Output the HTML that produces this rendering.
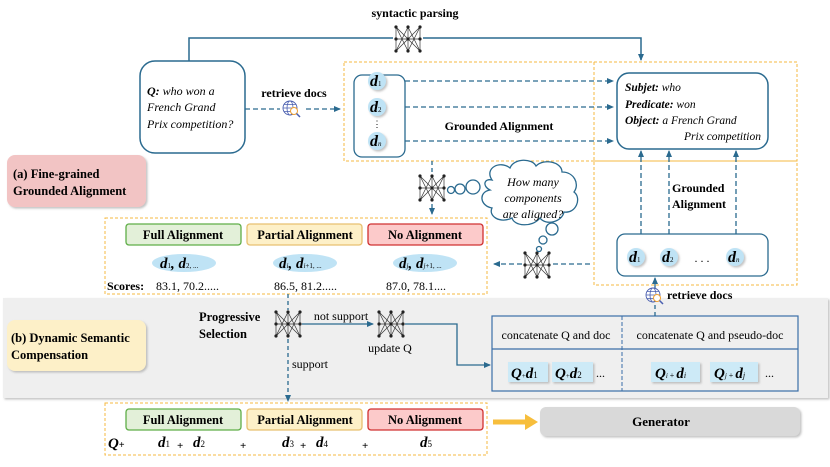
<!DOCTYPE html>
<html><head><meta charset="utf-8"><style>
html,body{margin:0;padding:0;background:#fff;}
svg{display:block;font-family:"Liberation Serif",serif;}
.b{font-weight:bold;}
.i{font-style:italic;}
</style></head><body>
<svg width="830" height="467" viewBox="0 0 830 467" xmlns="http://www.w3.org/2000/svg">
<defs>
<marker id="ar" markerWidth="8" markerHeight="8" refX="6" refY="3" orient="auto" markerUnits="userSpaceOnUse"><path d="M0,0 L7,3 L0,6 z" fill="#2a6a8f"/></marker>
<g id="net">
 <g stroke="#333" stroke-width="0.7" fill="none">
  <path d="M0,0 L12,12 L24,0 M0,24 L12,12 L24,24 M0,0 L12,24 L24,0 M0,24 L12,0 L24,24 M0,0 V24 M24,0 V24 M0,12 H24 M12,0 V24"/>
 </g>
 <g fill="#222"><circle cx="0" cy="0" r="1.6"/><circle cx="12" cy="0" r="1.6"/><circle cx="24" cy="0" r="1.6"/><circle cx="0" cy="12" r="1.6"/><circle cx="12" cy="12" r="1.6"/><circle cx="24" cy="12" r="1.6"/><circle cx="0" cy="24" r="1.6"/><circle cx="12" cy="24" r="1.6"/><circle cx="24" cy="24" r="1.6"/></g>
</g>
<g id="globe">
 <circle cx="0" cy="0" r="7" fill="none" stroke="#4a5fb0" stroke-width="0.9"/>
 <ellipse cx="0" cy="0" rx="3" ry="7" fill="none" stroke="#4a5fb0" stroke-width="0.8"/>
 <path d="M-7,0 H7 M-6,-3.5 H6 M-6,3.5 H6" stroke="#4a5fb0" stroke-width="0.8"/>
 <circle cx="4" cy="3" r="3.5" fill="#fff" stroke="#f0a030" stroke-width="1"/>
 <path d="M6.5,5.5 L10,9" stroke="#4a5fb0" stroke-width="1.5"/>
</g>
<filter id="sh" x="-10%" y="-10%" width="130%" height="140%"><feDropShadow dx="1.5" dy="1.5" stdDeviation="1" flood-color="#999" flood-opacity="0.6"/></filter>
</defs>

<text x="415" y="17" class="b" font-size="12" text-anchor="middle">syntactic parsing</text>
<path d="M189,61 V38 H393 M423,38 H641 V60" fill="none" stroke="#2a6a8f" stroke-width="1.5" marker-end="url(#ar)"/>
<use href="#net" x="396" y="27"/>

<rect x="140" y="61" width="105" height="92" rx="15" fill="#fff" stroke="#2a6a8f" stroke-width="1.5"/>
<text font-size="12" class="i"><tspan x="147" y="95"><tspan class="b">Q:</tspan> who won a</tspan><tspan x="147" y="111">French Grand</tspan><tspan x="147" y="128">Prix competition?</tspan></text>
<text x="294" y="97" class="b" font-size="12" text-anchor="middle">retrieve docs</text>
<path d="M245,109 H280 M306,109 H340" stroke="#2a6a8f" stroke-width="1.3" stroke-dasharray="5,3" fill="none" marker-end="url(#ar)"/>
<use href="#globe" x="290" y="108"/>

<g fill="none" stroke="#f5b942" stroke-width="1" stroke-dasharray="3,2">
<rect x="344" y="62" width="453" height="99"/>
<line x1="594" y1="62" x2="594" y2="285"/>
<path d="M594,161 H797 V285 H594"/>
<rect x="105" y="218" width="382" height="76"/>
<rect x="105" y="403" width="382" height="52"/>
</g>

<rect x="354" y="75" width="51" height="82" rx="8" fill="#fff" stroke="#2a6a8f" stroke-width="1.3"/>
<g fill="#bfe3f5" filter="url(#sh)"><circle cx="377" cy="81" r="9"/><circle cx="377" cy="107" r="9"/><circle cx="377" cy="141" r="9"/></g>
<g font-size="16" class="b i"><text x="370" y="86">d<tspan font-size="7" font-weight="normal" font-style="normal">1</tspan></text><text x="370" y="112">d<tspan font-size="7" font-weight="normal" font-style="normal">2</tspan></text><text x="370" y="146">d<tspan font-size="7" font-weight="normal">n</tspan></text></g>
<text x="377" y="127" font-size="9" text-anchor="middle">⋮</text>
<g stroke="#2a6a8f" stroke-width="1.3" stroke-dasharray="5,3" fill="none" marker-end="url(#ar)">
<path d="M405,81 H613"/><path d="M405,107 H613"/><path d="M405,141 H613"/>
</g>
<text x="499" y="130" class="b" font-size="12" text-anchor="middle">Grounded  Alignment</text>

<rect x="617" y="73" width="151" height="76" rx="12" fill="#fff" stroke="#2a6a8f" stroke-width="1.5"/>
<g font-size="11.5" class="i">
<text x="625" y="91"><tspan class="b">Subjet:</tspan> who</text>
<text x="625" y="108"><tspan class="b">Predicate:</tspan> won</text>
<text x="625" y="124"><tspan class="b">Object:</tspan> a French Grand</text>
<text x="761" y="140" text-anchor="end">Prix competition</text>
</g>
<g stroke="#2a6a8f" stroke-width="1.3" stroke-dasharray="5,3" fill="none" marker-end="url(#ar)">
<path d="M641,234 V151"/><path d="M669,234 V151"/><path d="M736,234 V151"/>
</g>
<text x="672" y="192" class="b" font-size="12"><tspan x="672">Grounded</tspan><tspan x="672" dy="16">Alignment</tspan></text>

<rect x="617" y="234" width="151" height="42" rx="8" fill="#fff" stroke="#2a6a8f" stroke-width="1.3"/>
<g fill="#bfe3f5" filter="url(#sh)"><circle cx="636" cy="257" r="9"/><circle cx="669" cy="257" r="9"/><circle cx="735" cy="257" r="9"/></g>
<g font-size="16" class="b i"><text x="629" y="262">d<tspan font-size="7" font-weight="normal" font-style="normal">1</tspan></text><text x="662" y="262">d<tspan font-size="7" font-weight="normal" font-style="normal">2</tspan></text><text x="728" y="262">d<tspan font-size="7" font-weight="normal">n</tspan></text></g>
<text x="702" y="262" font-size="12" text-anchor="middle">. . .</text>

<path d="M590,264 H553 M522,264 H494" stroke="#2a6a8f" stroke-width="1.3" stroke-dasharray="5,3" fill="none" marker-end="url(#ar)"/>
<use href="#net" x="525" y="253"/>

<path d="M432,161 V172 M432,204 V214" stroke="#2a6a8f" stroke-width="1.3" stroke-dasharray="4,3" fill="none" marker-end="url(#ar)"/>
<use href="#net" x="420" y="176"/>
<g fill="#fff" stroke="#2a6a8f" stroke-width="1.3">
<circle cx="451" cy="190" r="3.5"/><circle cx="460" cy="189" r="5"/><circle cx="473" cy="187" r="7"/>
<path d="M492,180 C484,168 500,160 510,168 C514,158 532,158 536,166 C544,158 562,162 562,172 C574,172 580,184 574,192 C582,198 576,214 564,212 C562,222 546,226 540,218 C532,228 514,226 512,218 C500,224 488,216 492,208 C480,206 478,192 490,190 C482,186 484,178 492,180 Z"/>
<circle cx="552" cy="229" r="6"/><circle cx="543" cy="240" r="4"/><circle cx="539" cy="249" r="2.5"/>
</g>
<g font-size="12" class="i" text-anchor="middle"><text x="533" y="186">How many</text><text x="533" y="202">components</text><text x="533" y="218">are aligned?</text></g>

<rect x="7" y="155" width="139" height="52" rx="8" fill="#f2c4c4" filter="url(#sh)"/>
<text class="b" font-size="12.5"><tspan x="13" y="178">(a) Fine-grained</tspan><tspan x="13" y="195">Grounded Alignment</tspan></text>

<g class="b" font-size="12.5" text-anchor="middle">
<rect x="126" y="224" width="115" height="21" rx="3" fill="#e3f0d9" stroke="#5fae48" stroke-width="1.3"/><text x="183" y="239">Full Alignment</text>
<rect x="247" y="224" width="115" height="21" rx="3" fill="#fdf0c8" stroke="#e8c070" stroke-width="1.3"/><text x="305" y="239">Partial Alignment</text>
<rect x="368" y="224" width="115" height="21" rx="3" fill="#fccaca" stroke="#d03030" stroke-width="1.3"/><text x="425" y="239">No Alignment</text>
</g>
<g fill="#bfe3f5"><ellipse cx="184" cy="263" rx="32" ry="9"/><ellipse cx="305" cy="263" rx="32" ry="9"/><ellipse cx="425" cy="263" rx="32" ry="9"/></g>
<g font-size="15" class="b i">
<text x="160" y="268">d<tspan font-size="7" font-weight="normal" font-style="normal">1</tspan>, d<tspan font-size="7" font-weight="normal" font-style="normal">2, ...</tspan></text>
<text x="279" y="268">d<tspan font-size="7" font-weight="normal">i</tspan>, d<tspan font-size="7" font-weight="normal">i</tspan><tspan font-size="7" font-weight="normal" font-style="normal">+1, ...</tspan></text>
<text x="399" y="268">d<tspan font-size="7" font-weight="normal">j</tspan>, d<tspan font-size="7" font-weight="normal">j</tspan><tspan font-size="7" font-weight="normal" font-style="normal">+1, ...</tspan></text>
</g>
<g font-size="12"><text x="107" y="290" class="b">Scores:</text><text x="156" y="290">83.1, 70.2.....</text><text x="274" y="290">86.5, 81.2.....</text><text x="386" y="290">87.0, 78.1....</text></g>

<rect x="3" y="298" width="825" height="100" fill="#efefef" filter="url(#sh)"/>
<rect x="7" y="320" width="139" height="51" rx="8" fill="#fdf0c8" filter="url(#sh)"/>
<text class="b" font-size="12.5"><tspan x="11" y="342">(b) Dynamic Semantic</tspan><tspan x="11" y="359">Compensation</tspan></text>
<text class="b" font-size="12.5"><tspan x="199" y="321">Progressive</tspan><tspan x="199" y="338">Selection</tspan></text>
<use href="#net" x="276" y="312"/>
<path d="M302,324 H373" stroke="#2a6a8f" stroke-width="1.3" fill="none" marker-end="url(#ar)"/>
<text x="341" y="320" font-size="12" text-anchor="middle">not support</text>
<use href="#net" x="379" y="312"/>
<text x="390" y="352" font-size="12" text-anchor="middle">update Q</text>
<path d="M405,324 H457 V365 H490" stroke="#2a6a8f" stroke-width="1.3" fill="none" marker-end="url(#ar)"/>
<path d="M288,294 V310 M288,339 V401" stroke="#2a6a8f" stroke-width="1.3" stroke-dasharray="4,3" fill="none" marker-end="url(#ar)"/>
<text x="292" y="368" font-size="12">support</text>

<rect x="492" y="316" width="306" height="75" fill="none" stroke="#3a6ea8" stroke-width="1.2"/>
<line x1="492" y1="349" x2="798" y2="349" stroke="#3a6ea8" stroke-width="1.2"/>
<line x1="622" y1="316" x2="622" y2="391" stroke="#3a6ea8" stroke-width="1" stroke-dasharray="4,2"/>
<g font-size="12" text-anchor="middle"><text x="556" y="339">concatenate Q and doc</text><text x="710" y="339">concatenate Q and pseudo-doc</text></g>
<g fill="#cdeaf7" filter="url(#sh)"><rect x="508" y="362" width="40" height="20"/><rect x="552" y="362" width="41" height="20"/><rect x="651" y="362" width="49" height="20"/><rect x="710" y="362" width="48" height="20"/></g>
<g font-size="15" class="b i">
<text x="511" y="378">Q<tspan font-size="7" font-weight="normal" font-style="normal">+</tspan>d<tspan font-size="9" font-weight="normal" font-style="normal">1</tspan></text>
<text x="555" y="378">Q<tspan font-size="7" font-weight="normal" font-style="normal">+</tspan>d<tspan font-size="9" font-weight="normal" font-style="normal">2</tspan></text>
<text x="655" y="378">Q<tspan font-size="7" font-weight="normal">i</tspan><tspan font-size="8" font-weight="normal" font-style="normal"> + </tspan>d<tspan font-size="8" font-weight="normal">i</tspan></text>
<text x="714" y="378">Q<tspan font-size="7" font-weight="normal">j</tspan><tspan font-size="8" font-weight="normal" font-style="normal"> + </tspan>d<tspan font-size="8" font-weight="normal">j</tspan></text>
</g>
<g font-size="12"><text x="596" y="377">...</text><text x="765" y="377">...</text></g>

<path d="M655,316 V305 M655,288 V278" stroke="#2a6a8f" stroke-width="1.3" stroke-dasharray="4,3" fill="none" marker-end="url(#ar)"/>
<use href="#globe" x="653" y="295"/>
<text x="667" y="299" class="b" font-size="12">retrieve docs</text>

<g class="b" font-size="12.5" text-anchor="middle">
<rect x="126" y="409" width="115" height="21" rx="3" fill="#e3f0d9" stroke="#5fae48" stroke-width="1.3"/><text x="183" y="424">Full Alignment</text>
<rect x="247" y="409" width="115" height="21" rx="3" fill="#fdf0c8" stroke="#e8c070" stroke-width="1.3"/><text x="305" y="424">Partial Alignment</text>
<rect x="368" y="409" width="115" height="21" rx="3" fill="#fccaca" stroke="#d03030" stroke-width="1.3"/><text x="425" y="424">No Alignment</text>
</g>
<g font-size="15" class="b i">
<text x="108" y="448">Q<tspan font-size="10" font-style="normal">+</tspan></text>
<text x="158" y="447">d<tspan font-size="9" font-weight="normal" font-style="normal">1</tspan></text>
<text x="193" y="447">d<tspan font-size="9" font-weight="normal" font-style="normal">2</tspan></text>
<text x="282" y="447">d<tspan font-size="9" font-weight="normal" font-style="normal">3</tspan></text>
<text x="316" y="447">d<tspan font-size="9" font-weight="normal" font-style="normal">4</tspan></text>
<text x="420" y="447">d<tspan font-size="9" font-weight="normal" font-style="normal">5</tspan></text>
</g>
<g font-size="11" class="b"><text x="177" y="449">+</text><text x="240" y="449">+</text><text x="300" y="449">+</text><text x="362" y="449">+</text></g>

<path d="M493,422 H527" stroke="#f7be3c" stroke-width="5" fill="none"/>
<path d="M525,414 L538,422 L525,430 Z" fill="#f7be3c"/>
<rect x="540" y="407" width="260" height="29" rx="6" fill="#d9d9d9" filter="url(#sh)"/>
<text x="661" y="426" class="b" font-size="13" text-anchor="middle">Generator</text>
</svg>
</body></html>
